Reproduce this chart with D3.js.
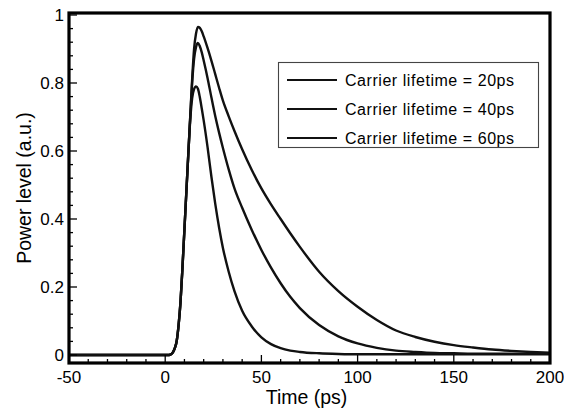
<!DOCTYPE html>
<html>
<head>
<meta charset="utf-8">
<script src="https://cdn.jsdelivr.net/npm/d3@7"></script>
<style>
  html, body { margin: 0; padding: 0; background: #fff; }
  svg { display: block; font-family: "Liberation Sans", Arial, sans-serif; }
</style>
</head>
<body>
<svg id="chart" width="564" height="412"></svg>
<script>
// ---- data ----
const time = [-50, 0, 2, 3, 4, 5, 6, 7, 8, 9, 10, 11, 12, 13, 14, 15, 16, 17, 18, 19, 20, 22, 24, 26, 28, 30, 33, 36, 40, 45, 50, 55, 60, 65, 70, 80, 90, 100, 110, 120, 130, 140, 150, 160, 170, 180, 190, 200];
const life20 = [0, 0, 0, 0.002, 0.008, 0.02, 0.042, 0.09, 0.16, 0.26, 0.37, 0.48, 0.59, 0.69, 0.755, 0.782, 0.79, 0.783, 0.758, 0.725, 0.69, 0.612, 0.525, 0.445, 0.375, 0.315, 0.245, 0.188, 0.13, 0.084, 0.052, 0.032, 0.02, 0.013, 0.009, 0.005, 0.003, 0.002, 0.002, 0.002, 0.002, 0.002, 0.002, 0.002, 0.002, 0.002, 0.002, 0.002];
const life40 = [0, 0, 0, 0.002, 0.008, 0.02, 0.042, 0.09, 0.16, 0.26, 0.37, 0.48, 0.59, 0.70, 0.80, 0.87, 0.905, 0.918, 0.908, 0.89, 0.866, 0.815, 0.758, 0.703, 0.654, 0.609, 0.546, 0.49, 0.433, 0.368, 0.309, 0.257, 0.211, 0.171, 0.138, 0.088, 0.055, 0.034, 0.021, 0.013, 0.009, 0.006, 0.005, 0.004, 0.004, 0.004, 0.004, 0.004];
const life60 = [0, 0, 0, 0.002, 0.008, 0.02, 0.042, 0.09, 0.16, 0.26, 0.37, 0.48, 0.59, 0.70, 0.81, 0.90, 0.945, 0.965, 0.962, 0.952, 0.937, 0.903, 0.866, 0.826, 0.786, 0.748, 0.702, 0.659, 0.605, 0.544, 0.49, 0.443, 0.40, 0.358, 0.318, 0.245, 0.188, 0.142, 0.103, 0.072, 0.053, 0.039, 0.029, 0.022, 0.016, 0.012, 0.009, 0.007];
const seriesNames = ["Carrier lifetime = 20ps", "Carrier lifetime = 40ps", "Carrier lifetime = 60ps"];
const xTicks = [-50, 0, 50, 100, 150, 200];
const yTicks = [0, 0.2, 0.4, 0.6, 0.8, 1];
const yTickLabels = ["0", "0.2", "0.4", "0.6", "0.8", "1"];

// ---- layout ----
const svg = d3.select("#chart");
const x = d3.scaleLinear().domain([-50, 200]).range([69, 550]);
const y = d3.scaleLinear().domain([0, 1]).range([355, 15]);
const frameTop = 13, frameBottom = 363;

// curves
const series = [life20, life40, life60];
const line = d3.line()
  .x((d, i) => x(time[i]))
  .y(d => y(d))
  .curve(d3.curveMonotoneX);
svg.append("g").selectAll("path").data(series).join("path")
  .attr("d", d => line(d))
  .attr("fill", "none")
  .attr("stroke", "#111")
  .attr("stroke-width", 2.4)
  .attr("stroke-linejoin", "round");

// frame
svg.append("rect")
  .attr("x", x(-50)).attr("y", frameTop)
  .attr("width", x(200) - x(-50)).attr("height", frameBottom - frameTop)
  .attr("fill", "none").attr("stroke", "#000").attr("stroke-width", 3.2);

// bottom ticks (inward)
const xMinor = d3.range(-50, 201, 10);
svg.append("g").selectAll("line").data(xMinor).join("line")
  .attr("x1", d => x(d)).attr("x2", d => x(d))
  .attr("y1", frameBottom).attr("y2", d => frameBottom - (d % 50 === 0 ? 8 : 4))
  .attr("stroke", "#000").attr("stroke-width", 1.3);
svg.append("g").selectAll("text").data(xTicks).join("text")
  .attr("x", d => x(d)).attr("y", 383)
  .attr("text-anchor", "middle")
  .attr("font-size", 17)
  .text(d => d);

// left ticks (inward)
const yMinor = d3.range(0, 1.0001, 0.04);
svg.append("g").selectAll("line").data(yMinor).join("line")
  .attr("x1", x(-50)).attr("x2", (d, i) => x(-50) + (i % 5 === 0 ? 8 : 4))
  .attr("y1", d => y(d)).attr("y2", d => y(d))
  .attr("stroke", "#000").attr("stroke-width", 1.3);
svg.append("g").selectAll("text").data(yTicks).join("text")
  .attr("x", 64).attr("y", d => y(d))
  .attr("dy", "0.35em")
  .attr("text-anchor", "end")
  .attr("font-size", 17)
  .text((d, i) => yTickLabels[i]);

// axis titles
svg.append("text")
  .attr("x", (x(-50) + x(200)) / 2 - 3).attr("y", 404)
  .attr("text-anchor", "middle").attr("font-size", 19.5)
  .text("Time (ps)");
svg.append("text")
  .attr("transform", `translate(31,${(frameTop + frameBottom) / 2}) rotate(-90)`)
  .attr("text-anchor", "middle").attr("font-size", 19.5)
  .text("Power level (a.u.)");

// legend
const lg = svg.append("g");
lg.append("rect")
  .attr("x", 278.5).attr("y", 62.5).attr("width", 260).attr("height", 85)
  .attr("fill", "#fff").attr("stroke", "#444").attr("stroke-width", 1.1);
const rowsY = [80, 109, 138];
lg.selectAll("line").data(seriesNames).join("line")
  .attr("x1", 287).attr("x2", 337)
  .attr("y1", (d, i) => rowsY[i]).attr("y2", (d, i) => rowsY[i])
  .attr("stroke", "#111").attr("stroke-width", 2);
lg.selectAll("text").data(seriesNames).join("text")
  .attr("x", 345).attr("y", (d, i) => rowsY[i])
  .attr("dy", "0.35em")
  .attr("font-size", 16)
  .attr("letter-spacing", 0.55)
  .text(d => d);
</script>
</body>
</html>
